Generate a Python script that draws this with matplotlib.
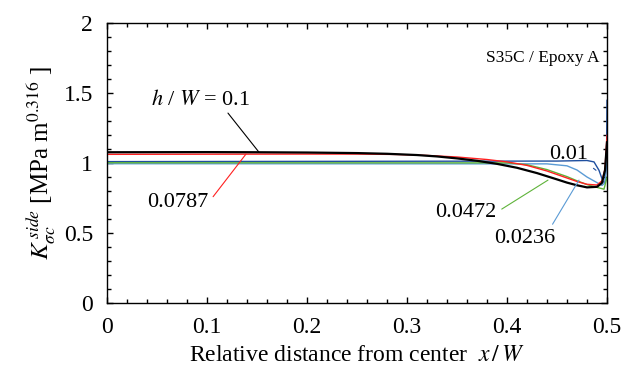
import matplotlib
matplotlib.use("Agg")
import matplotlib.pyplot as plt
from matplotlib.ticker import MultipleLocator, FuncFormatter

plt.rcParams['font.family'] = ['Liberation Serif', 'DejaVu Serif']
plt.rcParams['mathtext.fontset'] = 'stix'

# h/W = 0.1 (black)
x_01 = [0.0, 0.1, 0.15, 0.2, 0.25, 0.28, 0.31, 0.33, 0.35, 0.37, 0.39, 0.41, 0.43, 0.45, 0.46, 0.47, 0.48, 0.49, 0.495, 0.498, 0.5]
k_01 = [1.079, 1.080, 1.079, 1.077, 1.073, 1.068, 1.059, 1.049, 1.035, 1.018, 0.996, 0.968, 0.93, 0.885, 0.862, 0.843, 0.828, 0.832, 0.86, 0.95, 1.15]
# h/W = 0.0787 (red)
x_0787 = [0.0, 0.2, 0.25, 0.29, 0.32, 0.35, 0.38, 0.4, 0.42, 0.44, 0.46, 0.47, 0.48, 0.49, 0.495, 0.498, 0.5]
k_0787 = [1.064, 1.066, 1.066, 1.063, 1.056, 1.045, 1.027, 1.01, 0.985, 0.945, 0.895, 0.87, 0.85, 0.845, 0.875, 0.96, 1.2]
# h/W = 0.0472 (green)
x_0472 = [0.0, 0.4, 0.42, 0.44, 0.46, 0.47, 0.48, 0.49, 0.497, 0.5]
k_0472 = [1.004, 1.003, 0.99, 0.955, 0.905, 0.875, 0.848, 0.828, 0.815, 0.90]
# h/W = 0.0236 (light blue)
x_0236 = [0.0, 0.44, 0.46, 0.47, 0.48, 0.49, 0.495, 0.498, 0.5]
k_0236 = [0.997, 0.996, 0.982, 0.952, 0.902, 0.862, 0.842, 0.86, 1.1]
# h/W = 0.01 (dark blue)
x_001 = [0.0, 0.45, 0.48, 0.487, 0.492, 0.496, 0.498, 0.4995, 0.5]
k_001 = [1.012, 1.016, 1.02, 1.01, 0.95, 0.87, 0.86, 1.0, 1.45]

fig = plt.figure(figsize=(6.31, 3.76), dpi=100)
ax = fig.add_axes([107/631, 1-303.3/376, 500/631, 280/376])

ax.plot(x_001, k_001, color='#1f4f9f', lw=1.0)
ax.plot(x_0236, k_0236, color='#5b9bd5', lw=1.0)
ax.plot(x_0472, k_0472, color='#5fb33a', lw=1.0)
ax.plot(x_0787, k_0787, color='#ff2020', lw=1.0)
ax.plot(x_01, k_01, color='black', lw=1.6)

ax.set_xlim(0, 0.5)
ax.set_ylim(0, 2)
ax.xaxis.set_major_locator(MultipleLocator(0.1))
ax.xaxis.set_minor_locator(MultipleLocator(0.02))
ax.yaxis.set_major_locator(MultipleLocator(0.5))
ax.yaxis.set_minor_locator(MultipleLocator(0.1))
fmt = FuncFormatter(lambda v, p: ('%g' % round(v, 3)))
ax.xaxis.set_major_formatter(fmt)
ax.yaxis.set_major_formatter(fmt)
ax.tick_params(which='both', direction='in', top=True, right=True, labelsize=17, width=1.0)
ax.tick_params(which='major', length=4.5, pad=10)
ax.tick_params(which='minor', length=3)
for s in ax.spines.values():
    s.set_linewidth(1.0)

ax.set_xlabel(r'Relative distance from center  $x\,/\,W$', fontsize=17, labelpad=5)
ax.set_ylabel(r'$K_{\sigma c}^{\,side}$ [MPa m$^{0.316}$ ]', fontsize=18, labelpad=4)

ax.text(0.492, 1.75, 'S35C / Epoxy A', fontsize=12.5, ha='right', va='center')

ax.annotate(r'$h$ / $W$ = 0.1', xy=(0.152, 1.079), xytext=(0.094, 1.45),
            fontsize=16, ha='center', va='center',
            arrowprops=dict(arrowstyle='-', color='black', lw=0.8, shrinkA=0, shrinkB=0,
                            relpos=(0.75, 0.0)))
ax.annotate('0.0787', xy=(0.139, 1.066), xytext=(0.071, 0.72),
            fontsize=16, ha='center', va='center',
            arrowprops=dict(arrowstyle='-', color='#ff2020', lw=0.8, shrinkA=2, shrinkB=0,
                            relpos=(1.0, 0.5)))
ax.annotate('0.0472', xy=(0.441, 0.88), xytext=(0.359, 0.65),
            fontsize=16, ha='center', va='center',
            arrowprops=dict(arrowstyle='-', color='#5fb33a', lw=0.8, shrinkA=2, shrinkB=0,
                            relpos=(1.0, 0.5)))
ax.annotate('0.0236', xy=(0.472, 0.88), xytext=(0.418, 0.46),
            fontsize=16, ha='center', va='center',
            arrowprops=dict(arrowstyle='-', color='#5b9bd5', lw=0.8, shrinkA=2, shrinkB=0,
                            relpos=(0.9, 1.0)))
ax.annotate('0.01', xy=(0.489, 0.95), xytext=(0.462, 1.06),
            fontsize=16, ha='center', va='center',
            arrowprops=dict(arrowstyle='-', color='#1f4f9f', lw=0.8, shrinkA=2, shrinkB=0,
                            relpos=(1.0, 0.0)))

fig.savefig('out.png', dpi=100)
